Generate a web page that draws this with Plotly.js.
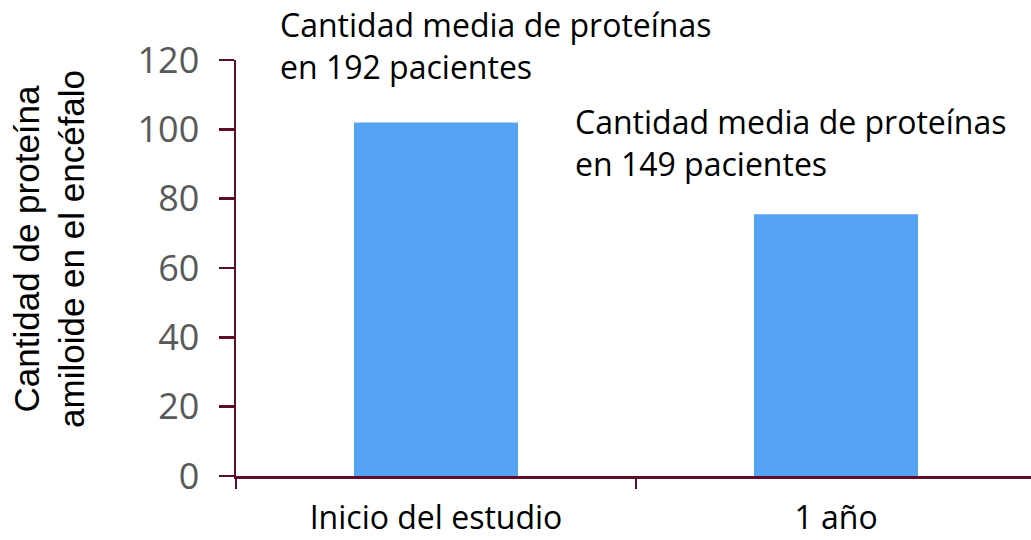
<!DOCTYPE html>
<html>
<head>
<meta charset="utf-8">
<script src="https://cdn.plot.ly/plotly-3.0.1.min.js"></script>
<style>html,body{margin:0;padding:0;background:#fff;}#chart{width:1031px;height:540px;}</style>
</head>
<body>
<div id="chart"></div>
<script>
// Data
const categories = ["Inicio del estudio", "1 año"];
const meanProtein = [102, 75.5];
const yTickValues = [0, 20, 40, 60, 80, 100, 120];
const yTitleLines = ["Cantidad de proteína", "amiloide en el encéfalo"];
const noteBaseline = ["Cantidad media de proteínas", "en 192 pacientes"];
const noteYear = ["Cantidad media de proteínas", "en 149 pacientes"];

const axisColor = "#5a0e2c";
const barColor = "#56a2f3";
const textFont = "'Open Sans', 'Noto Sans', sans-serif";
const titleFont = "'Liberation Sans', Arial, sans-serif";

const trace = {
  type: "bar",
  x: categories,
  y: meanProtein,
  marker: { color: barColor, line: { width: 0 } },
  hoverinfo: "skip"
};

function note(lines, x, y, size, family, angle) {
  return {
    xref: "paper", yref: "paper", x: x, y: y,
    xanchor: angle ? "center" : "left", yanchor: "middle",
    align: angle ? "center" : "left",
    text: lines.join("<br>"), showarrow: false, textangle: angle || 0,
    font: { family: family, size: size, color: "#000" }
  };
}

const layout = {
  width: 1031, height: 540,
  margin: { l: 236, r: 0, t: 60, b: 64, pad: 0 },
  paper_bgcolor: "#fff", plot_bgcolor: "#fff",
  showlegend: false,
  bargap: 0.59,
  xaxis: {
    type: "category",
    range: [-0.5, 1.4875],
    showline: true, linecolor: axisColor, linewidth: 2.5,
    ticks: "outside", tickson: "boundaries", ticklen: 10, tickwidth: 2.5, tickcolor: axisColor,
    ticklabelstandoff: 12,
    tickfont: { family: textFont, size: 32, color: "#000" },
    showgrid: false, zeroline: false, fixedrange: true
  },
  yaxis: {
    range: [0, 120],
    tickvals: yTickValues,
    showline: true, linecolor: axisColor, linewidth: 2.5,
    ticks: "outside", ticklen: 15, tickwidth: 2.5, tickcolor: axisColor,
    ticklabelstandoff: 12,
    tickfont: { family: textFont, size: 36, color: "#595959" },
    showgrid: false, zeroline: false, fixedrange: true
  },
  annotations: [
    note(noteBaseline, 0.0528, 1.034, 32, textFont),
    note(noteYear, 0.4239, 0.8015, 32, textFont),
    note(yTitleLines, -0.234, 0.5457, 35, titleFont, -90)
  ]
};

Plotly.newPlot("chart", [trace], layout, { displayModeBar: false, staticPlot: true });
</script>
</body>
</html>
